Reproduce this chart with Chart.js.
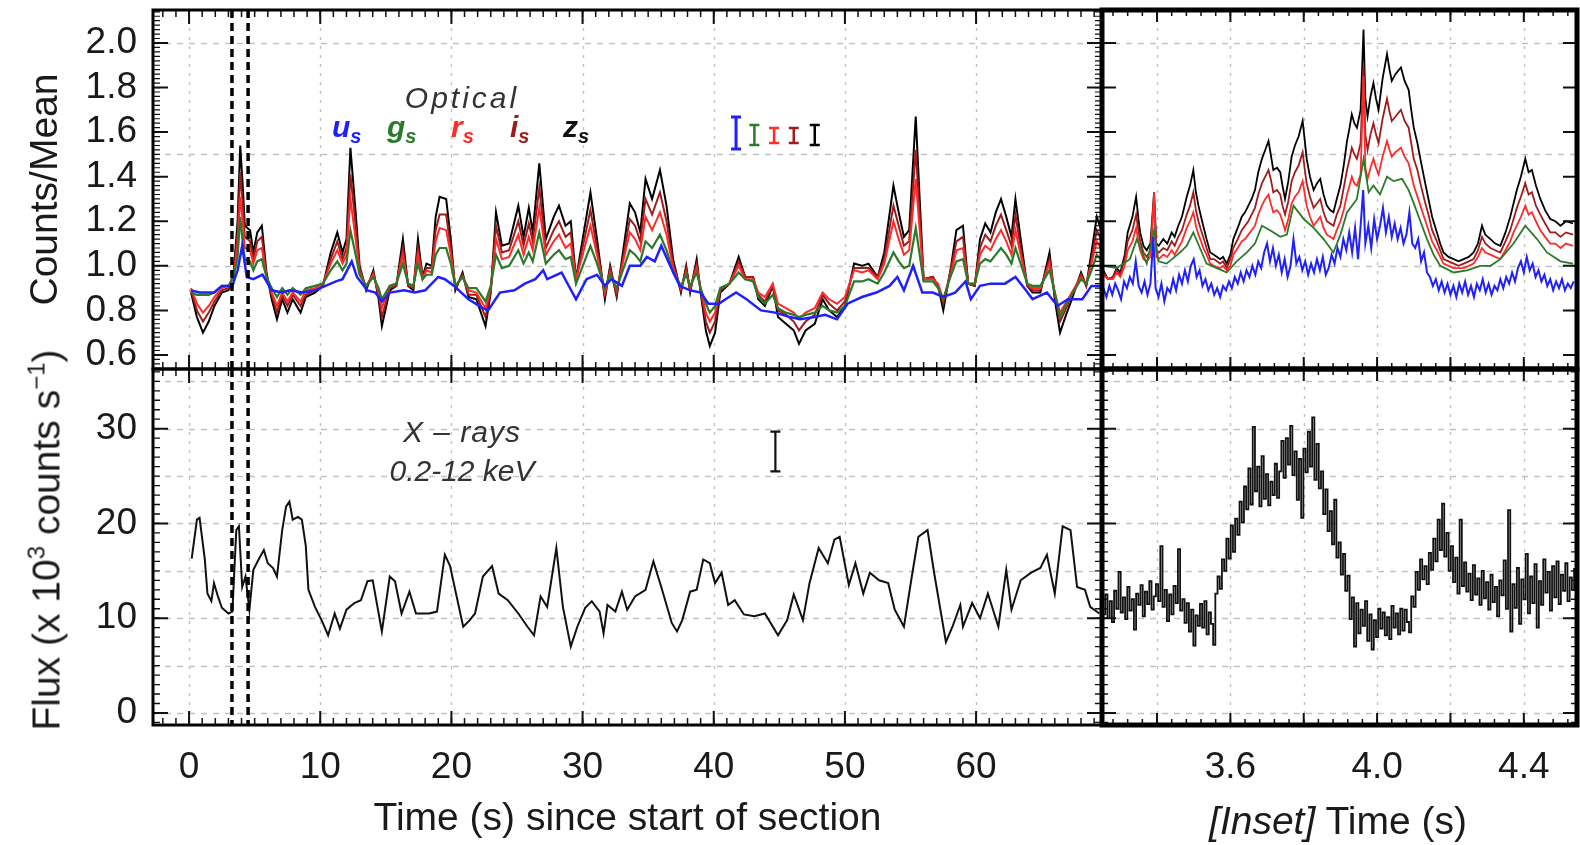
<!DOCTYPE html>
<html><head><meta charset="utf-8">
<script src="https://cdn.jsdelivr.net/npm/chart.js@4.4.1/dist/chart.umd.min.js"></script>
<style>
html,body{margin:0;padding:0;background:#fff;width:1580px;height:845px;overflow:hidden;font-family:"Liberation Sans",Arial,sans-serif;}
canvas{position:absolute;left:0;top:0;}
.lab{position:absolute;white-space:nowrap;color:#1a1a1a;line-height:1;z-index:5;}
.ann{font-style:italic;color:#333;font-size:30px;}
.band{position:absolute;font-weight:bold;font-style:italic;font-size:30px;line-height:1;z-index:5;white-space:nowrap;}
.band span{font-size:20px;position:relative;top:6px;}
</style></head><body>
<canvas id="cTL" width="1580" height="845"></canvas>
<canvas id="cBL" width="1580" height="845"></canvas>
<canvas id="cTR" width="1580" height="845"></canvas>
<canvas id="cBR" width="1580" height="845"></canvas>

<div class="lab ann" style="left:462px;top:98px;transform:translate(-50%,-50%);letter-spacing:3px;">Optical</div>
<div class="band" style="left:332px;top:112px;color:#1f1fff;">u<span>s</span></div>
<div class="band" style="left:387px;top:112px;color:#2a7a2a;">g<span>s</span></div>
<div class="band" style="left:451px;top:112px;color:#ff2a2a;">r<span>s</span></div>
<div class="band" style="left:510px;top:112px;color:#a01c1c;">i<span>s</span></div>
<div class="band" style="left:563px;top:112px;color:#111;">z<span>s</span></div>
<div class="lab ann" style="left:462px;top:432px;transform:translate(-50%,-50%);letter-spacing:1px;">X – rays</div>
<div class="lab ann" style="left:462px;top:471px;transform:translate(-50%,-50%);">0.2-12 keV</div>
<div class="lab" style="left:46px;top:540px;font-size:39px;transform:translate(-50%,-50%) rotate(-90deg);">Flux (x 10<span style="font-size:24px;position:relative;top:-15px;">3</span> counts s<span style="font-size:24px;position:relative;top:-15px;">−1</span>)</div>
<div class="lab" style="left:1338px;top:820px;font-size:39px;transform:translate(-50%,-50%);"><i>[Inset]</i> Time (s)</div>

<script>
// ---------------- tick labels / grid values ----------------
const xTicksMain = [0, 10, 20, 30, 40, 50, 60];
const xTicksInset = [3.6, 4.0, 4.4];
const yTicksOpt = [0.6, 0.8, 1.0, 1.2, 1.4, 1.6, 1.8, 2.0];
const yTicksX = [0, 10, 20, 30];
const gridYOpt = [1.0, 1.5, 2.0];
const gridYX = [0, 5, 10, 15, 20, 25, 30, 35];
const gridXInset = [3.4, 3.6, 3.8, 4.0, 4.2, 4.4];
const insetMarks = [3.27, 4.50];

// ---------------- main optical (time s) ----------------
const tMain = [0.15,0.6,1.06,1.5,1.93,2.5,3.0,3.4,3.7,3.9,
4.1,4.25,4.65,4.9,5.2,5.55,5.9,6.3,6.7,7.1,
7.5,7.9,8.5,8.9,9.6,10.2,10.8,11.3,11.7,12.0,
12.3,12.7,13.0,13.5,14.05,14.45,14.7,15.3,15.8,16.3,
16.7,17.1,17.45,17.8,18.1,18.5,18.8,19.1,19.6,19.95,
20.3,20.85,21.3,21.9,22.6,23.0,23.4,23.85,24.4,25.1,
25.5,25.9,26.2,26.7,27.2,27.8,28.2,28.7,29.1,29.5,
30.6,31.1,31.7,32.1,32.6,33.6,34.0,34.4,34.8,35.3,
35.9,36.4,36.9,37.5,37.9,38.2,38.7,39.0,39.4,39.7,
40.1,40.5,41.2,41.9,42.4,43.0,43.4,43.9,44.5,44.9,
45.5,46.1,46.5,47.0,47.7,48.3,48.8,49.4,50.0,50.7,
51.3,51.8,52.5,53.0,53.7,54.1,54.5,54.9,55.4,55.7,
56.0,56.7,57.1,57.5,58.1,58.5,59.0,59.4,59.9,60.3,
60.7,61.1,61.5,61.9,62.3,62.7,63.0,63.4,63.9,64.3,
64.9,65.6,66.0,66.4,66.8,67.3,68.0,68.4,68.8,69.2,
69.6];
const zMain = [0.88,0.77,0.70,0.75,0.82,0.88,0.89,0.97,1.20,1.54,
1.35,1.18,1.16,1.06,1.15,1.18,0.97,0.85,0.76,0.85,
0.79,0.85,0.79,0.86,0.88,0.91,1.06,1.15,1.06,1.12,
1.53,1.24,1.00,0.89,0.98,0.85,0.73,0.89,0.91,1.12,
0.91,0.89,1.12,0.95,1.01,1.00,1.22,1.31,1.30,1.12,
0.89,0.97,0.86,0.85,0.73,0.88,1.24,1.09,1.10,1.27,
1.13,1.26,1.15,1.46,1.12,1.22,1.27,1.18,1.20,0.94,
1.33,1.12,0.85,1.00,0.86,1.28,1.24,1.15,1.39,1.30,
1.43,1.27,1.03,0.88,1.00,0.88,1.03,0.88,0.71,0.64,
0.70,0.88,0.92,1.04,0.95,0.95,0.85,0.82,0.91,0.77,
0.74,0.71,0.65,0.71,0.74,0.85,0.80,0.77,0.82,1.01,
1.00,1.01,0.95,1.06,1.36,1.24,1.13,1.16,1.67,1.30,
0.94,0.95,0.91,0.80,1.00,1.16,1.18,0.92,0.91,1.12,
1.19,1.15,1.24,1.30,1.22,1.13,1.30,1.12,0.91,0.88,
0.88,1.06,0.85,0.70,0.77,0.85,0.97,0.91,1.06,1.22,
1.15];
const iMain = [0.89,0.80,0.75,0.79,0.84,0.89,0.90,0.96,1.15,1.42,
1.27,1.13,1.11,1.03,1.11,1.13,0.96,0.87,0.79,0.87,
0.82,0.87,0.82,0.87,0.89,0.91,1.03,1.11,1.03,1.08,
1.41,1.18,0.99,0.90,0.97,0.87,0.77,0.90,0.91,1.08,
0.91,0.90,1.08,0.95,0.99,0.99,1.16,1.23,1.23,1.08,
0.90,0.96,0.87,0.87,0.77,0.89,1.18,1.06,1.07,1.20,
1.09,1.19,1.11,1.35,1.08,1.16,1.20,1.13,1.15,0.94,
1.25,1.08,0.87,0.99,0.87,1.21,1.18,1.11,1.30,1.23,
1.33,1.20,1.01,0.89,0.99,0.89,1.01,0.89,0.75,0.70,
0.75,0.89,0.92,1.02,0.95,0.95,0.87,0.84,0.91,0.80,
0.78,0.75,0.71,0.75,0.78,0.87,0.83,0.80,0.84,0.99,
0.99,0.99,0.95,1.03,1.27,1.18,1.09,1.11,1.52,1.23,
0.94,0.95,0.91,0.83,0.99,1.11,1.13,0.92,0.91,1.08,
1.14,1.11,1.18,1.23,1.16,1.09,1.23,1.08,0.91,0.89,
0.89,1.03,0.87,0.75,0.80,0.87,0.96,0.91,1.03,1.16,
1.11];
const rMain = [0.90,0.83,0.79,0.82,0.86,0.90,0.91,0.95,1.10,1.31,
1.19,1.08,1.07,1.01,1.07,1.08,0.95,0.88,0.82,0.88,
0.84,0.88,0.84,0.89,0.90,0.92,1.01,1.07,1.01,1.05,
1.30,1.12,0.97,0.91,0.96,0.88,0.81,0.91,0.92,1.05,
0.92,0.91,1.05,0.94,0.98,0.97,1.11,1.17,1.16,1.05,
0.91,0.95,0.89,0.88,0.81,0.90,1.12,1.03,1.04,1.14,
1.05,1.13,1.07,1.26,1.05,1.11,1.14,1.08,1.10,0.94,
1.18,1.05,0.88,0.97,0.89,1.15,1.12,1.07,1.22,1.16,
1.24,1.14,0.99,0.90,0.97,0.90,0.99,0.90,0.79,0.75,
0.79,0.90,0.92,1.00,0.94,0.94,0.88,0.86,0.92,0.83,
0.81,0.79,0.76,0.79,0.81,0.88,0.85,0.83,0.86,0.98,
0.97,0.98,0.94,1.01,1.20,1.12,1.05,1.07,1.39,1.16,
0.94,0.94,0.92,0.85,0.97,1.07,1.08,0.92,0.92,1.05,
1.09,1.07,1.12,1.16,1.11,1.05,1.16,1.05,0.92,0.90,
0.90,1.01,0.88,0.79,0.83,0.88,0.95,0.92,1.01,1.11,
1.07];
const gMain = [0.88,0.87,0.87,0.87,0.88,0.91,0.91,0.95,1.04,1.22,
1.10,1.03,1.02,0.98,1.02,1.03,0.95,0.90,0.86,0.90,
0.87,0.90,0.87,0.90,0.91,0.92,0.98,1.02,0.98,1.01,
1.16,1.05,0.96,0.91,0.95,0.90,0.85,0.91,0.92,1.01,
0.92,0.91,1.01,0.94,0.96,0.96,1.05,1.08,1.08,1.01,
0.91,0.95,0.90,0.90,0.84,0.91,1.05,0.99,1.00,1.07,
1.01,1.06,1.02,1.15,1.01,1.05,1.07,1.03,1.04,0.92,
1.09,1.01,0.90,0.96,0.90,1.07,1.05,1.02,1.11,1.08,
1.14,1.07,0.97,0.91,0.96,0.91,0.97,0.90,0.83,0.79,
0.82,0.90,0.92,0.97,0.94,0.93,0.86,0.83,0.87,0.81,
0.79,0.78,0.77,0.78,0.79,0.82,0.80,0.79,0.82,0.93,
0.93,0.94,0.92,0.97,1.06,1.02,0.99,1.00,1.17,1.05,
0.93,0.93,0.90,0.85,0.96,1.02,1.03,0.92,0.92,1.01,
1.03,1.02,1.05,1.08,1.05,1.01,1.08,1.01,0.92,0.91,
0.91,0.98,0.88,0.77,0.82,0.87,0.94,0.92,0.98,1.05,
1.02];
const tMainU = [0.16,0.8,1.9,2.5,3.3,3.7,4.05,4.4,4.9,5.6,
6.3,7.1,7.65,8.7,9.6,10.4,11.2,11.7,12.4,12.8,
13.6,14.2,14.7,15.3,16.4,17.2,18.0,19.0,19.5,20.2,
21.3,22.4,22.8,23.7,24.8,25.6,26.4,27.0,27.3,28.4,
29.5,30.3,31.1,31.7,32.2,33.0,33.6,34.4,34.9,35.5,
36.0,36.6,37.4,38.2,39.0,39.6,40.4,40.9,41.7,42.5,
43.6,44.7,45.8,46.6,47.7,48.5,49.4,50.2,51.3,52.4,
53.4,54.0,54.5,55.2,55.9,56.7,57.5,58.4,59.2,59.6,
60.3,61.1,62.2,63.0,63.8,64.3,65.4,66.2,67.0,68.1,
68.8,69.5];
const uMain = [0.89,0.88,0.88,0.91,0.91,0.98,1.09,0.95,0.94,0.96,
0.89,0.88,0.89,0.88,0.89,0.91,0.93,0.94,1.02,0.95,
0.89,0.88,0.84,0.88,0.89,0.88,0.89,0.95,0.94,0.91,
0.85,0.81,0.80,0.88,0.89,0.92,0.94,0.98,0.94,0.97,
0.85,0.94,0.96,0.91,0.94,0.91,1.00,1.00,1.04,1.02,
1.09,1.01,0.91,0.89,0.88,0.83,0.83,0.85,0.88,0.85,
0.80,0.79,0.77,0.76,0.77,0.78,0.76,0.83,0.86,0.88,
0.91,0.95,0.89,1.00,0.88,0.88,0.86,0.88,0.93,0.85,
0.91,0.92,0.92,0.95,0.89,0.85,0.88,0.82,0.85,0.85,
0.91,0.91];

// ---------------- main X-ray (x1000 counts/s) ----------------
const tXray = [0.2,0.6,0.8,1.2,1.4,1.7,1.9,2.2,2.5,3.0,
3.3,3.6,3.8,4.05,4.3,4.6,4.9,5.3,5.7,6.0,
6.4,6.7,7.1,7.4,7.65,7.9,8.3,8.6,8.9,9.1,
9.6,10.1,10.6,11.1,11.5,12.0,12.6,13.1,13.6,14.0,
14.7,15.3,15.7,16.2,16.8,17.3,18.3,18.9,19.5,19.9,
20.4,20.9,21.4,21.8,22.4,23.1,23.6,24.3,25.1,25.8,
26.3,26.8,27.3,28.0,28.5,29.1,29.6,30.2,30.7,31.3,
31.6,31.9,32.5,33.0,33.4,34.0,34.8,35.4,36.0,36.8,
37.2,37.6,38.2,38.7,39.2,39.7,40.1,40.6,41.1,41.6,
42.3,43.1,43.9,44.9,45.6,46.1,46.8,47.3,48.0,48.7,
49.2,49.6,50.3,50.8,51.4,51.9,52.6,53.3,53.8,54.5,
55.1,55.6,56.3,56.8,57.7,58.2,58.8,59.0,59.7,60.3,
60.9,61.7,62.3,62.7,63.4,64.2,64.9,65.4,66.0,66.6,
67.2,67.7,68.3,68.7,69.4];
const xrayMain = [16.3,20.4,20.6,16.2,12.6,11.8,13.7,12.3,11.1,10.5,
10.7,19.3,19.7,13.3,14.4,10.9,15.1,16.2,17.2,15.8,
15.3,14.4,19.3,21.8,22.3,20.4,20.7,20.4,17.6,13.0,
11.2,9.8,8.2,10.5,8.9,10.9,11.6,11.9,13.9,14.0,
8.6,14.4,13.9,10.5,12.8,10.5,10.5,10.7,16.7,15.5,
12.3,9.1,9.8,10.5,14.4,15.5,12.6,11.9,10.5,9.1,
8.2,12.3,11.2,17.4,11.2,7.0,9.1,11.1,11.8,10.7,
8.4,11.4,10.7,12.8,10.9,12.3,13.0,16.0,13.3,9.5,
8.6,9.8,12.8,13.0,16.2,15.8,13.7,14.8,11.4,11.9,
10.4,10.2,10.5,8.2,9.8,12.5,9.8,13.7,17.4,15.8,
18.3,18.6,13.5,15.8,12.6,14.8,14.0,13.7,10.9,9.1,
14.4,18.6,19.3,14.8,7.5,9.1,11.4,9.1,11.6,10.0,
12.6,9.1,15.1,10.9,14.0,14.8,15.3,16.7,12.6,19.7,
19.3,13.3,13.0,11.2,10.5];

// ---------------- inset optical ----------------
const tInset = [3.254,3.266,3.28,3.29,3.30,3.312,3.32,3.333,3.343,3.35,
3.354,3.363,3.372,3.382,3.392,3.398,3.405,3.417,3.428,3.44,
3.448,3.458,3.468,3.481,3.49,3.499,3.506,3.513,3.52,3.526,
3.535,3.545,3.555,3.572,3.58,3.59,3.60,3.608,3.62,3.631,
3.64,3.649,3.658,3.667,3.676,3.686,3.695,3.704,3.71,3.717,
3.727,3.736,3.742,3.749,3.758,3.767,3.776,3.786,3.797,3.803,
3.808,3.817,3.827,3.836,3.845,3.854,3.863,3.872,3.881,3.89,
3.90,3.909,3.918,3.925,3.931,3.938,3.945,3.955,3.963,3.968,
3.974,3.982,3.99,3.997,4.004,4.015,4.027,4.034,4.04,4.05,
4.065,4.075,4.086,4.093,4.10,4.11,4.118,4.13,4.14,4.15,
4.163,4.172,4.181,4.195,4.209,4.222,4.236,4.25,4.263,4.275,
4.286,4.295,4.309,4.322,4.336,4.35,4.363,4.372,4.381,4.392,
4.404,4.413,4.422,4.433,4.445,4.458,4.472,4.486,4.50,4.515,
4.534];
const zInset = [0.98,0.94,0.95,0.99,0.97,1.05,1.15,1.22,1.31,1.20,
1.15,1.09,1.07,1.10,1.33,1.10,1.09,1.12,1.10,1.15,
1.13,1.18,1.22,1.31,1.36,1.43,1.33,1.27,1.22,1.18,
1.12,1.06,1.05,1.03,1.04,1.01,1.05,1.12,1.17,1.22,
1.24,1.27,1.30,1.34,1.42,1.48,1.52,1.56,1.50,1.43,
1.44,1.42,1.36,1.30,1.38,1.49,1.54,1.58,1.65,1.56,
1.48,1.40,1.34,1.37,1.39,1.32,1.27,1.25,1.24,1.30,
1.36,1.45,1.56,1.62,1.68,1.64,1.62,1.70,2.06,1.75,
1.67,1.76,1.82,1.75,1.70,1.84,1.95,1.88,1.83,1.86,
1.89,1.83,1.79,1.70,1.62,1.55,1.48,1.38,1.30,1.22,
1.15,1.10,1.06,1.04,1.03,1.02,1.03,1.04,1.06,1.10,
1.18,1.14,1.12,1.10,1.09,1.15,1.22,1.28,1.34,1.40,
1.48,1.42,1.43,1.36,1.30,1.25,1.21,1.20,1.18,1.20,
1.19];
const iInset = [0.97,0.94,0.95,0.98,0.96,1.03,1.11,1.16,1.23,1.15,
1.11,1.06,1.04,1.07,1.30,1.07,1.06,1.08,1.07,1.11,
1.09,1.13,1.16,1.23,1.27,1.33,1.25,1.20,1.16,1.13,
1.08,1.03,1.03,1.01,1.02,0.99,1.03,1.08,1.12,1.16,
1.18,1.20,1.23,1.26,1.32,1.37,1.40,1.43,1.39,1.33,
1.34,1.32,1.27,1.23,1.29,1.38,1.42,1.45,1.51,1.43,
1.37,1.31,1.26,1.28,1.30,1.24,1.20,1.19,1.18,1.23,
1.27,1.35,1.43,1.48,1.53,1.50,1.48,1.55,1.90,1.59,
1.52,1.59,1.64,1.59,1.55,1.66,1.75,1.69,1.65,1.67,
1.70,1.65,1.62,1.55,1.48,1.43,1.37,1.29,1.23,1.16,
1.11,1.07,1.03,1.02,1.01,1.00,1.01,1.02,1.03,1.07,
1.13,1.10,1.08,1.07,1.06,1.11,1.16,1.21,1.26,1.31,
1.37,1.32,1.33,1.27,1.23,1.19,1.15,1.15,1.13,1.15,
1.14];
const rInset = [0.96,0.94,0.94,0.97,0.95,1.00,1.07,1.11,1.17,1.10,
1.07,1.03,1.02,1.04,1.33,1.04,1.03,1.05,1.04,1.07,
1.05,1.08,1.11,1.17,1.20,1.24,1.18,1.14,1.11,1.08,
1.05,1.01,1.00,0.99,1.00,0.98,1.00,1.05,1.08,1.11,
1.12,1.14,1.16,1.18,1.23,1.27,1.30,1.32,1.28,1.24,
1.25,1.23,1.20,1.16,1.21,1.28,1.31,1.33,1.38,1.32,
1.27,1.22,1.18,1.20,1.22,1.17,1.14,1.13,1.12,1.16,
1.20,1.25,1.32,1.36,1.40,1.37,1.36,1.41,1.85,1.44,
1.39,1.44,1.48,1.44,1.41,1.49,1.56,1.52,1.49,1.51,
1.53,1.49,1.46,1.41,1.36,1.31,1.27,1.21,1.16,1.11,
1.07,1.04,1.01,1.00,0.99,0.99,0.99,1.00,1.01,1.04,
1.08,1.06,1.05,1.04,1.03,1.07,1.11,1.15,1.18,1.22,
1.27,1.23,1.24,1.20,1.16,1.13,1.10,1.10,1.08,1.10,
1.09];
const tInsetG = [3.254,3.29,3.326,3.345,3.372,3.392,3.404,3.426,3.463,3.481,
3.499,3.517,3.535,3.563,3.59,3.617,3.645,3.667,3.686,3.708,
3.736,3.754,3.772,3.80,3.827,3.854,3.881,3.90,3.918,3.945,
3.963,3.977,3.99,4.008,4.027,4.045,4.068,4.086,4.10,4.118,
4.136,4.154,4.172,4.209,4.245,4.281,4.309,4.336,4.372,4.404,
4.436,4.463,4.50,4.534];
const gInset = [1.00,0.99,1.03,1.12,1.01,1.16,1.02,1.01,1.06,1.09,
1.15,1.08,1.01,0.99,0.97,1.02,1.06,1.10,1.18,1.16,
1.13,1.14,1.27,1.21,1.17,1.12,1.06,1.14,1.24,1.30,
1.48,1.33,1.36,1.32,1.40,1.38,1.39,1.34,1.28,1.20,
1.12,1.05,1.00,0.97,0.98,1.00,1.00,1.03,1.10,1.18,
1.12,1.06,1.02,1.01];
const tInsetU = [3.254,3.262,3.27,3.278,3.286,3.294,3.302,3.31,3.318,3.326,
3.334,3.342,3.35,3.358,3.366,3.374,3.382,3.39,3.396,3.404,
3.412,3.42,3.428,3.436,3.444,3.452,3.46,3.468,3.476,3.484,
3.492,3.50,3.508,3.516,3.524,3.532,3.54,3.548,3.556,3.564,
3.572,3.58,3.588,3.596,3.604,3.612,3.62,3.628,3.636,3.644,
3.652,3.66,3.668,3.676,3.684,3.692,3.70,3.708,3.716,3.724,
3.732,3.74,3.748,3.756,3.764,3.772,3.78,3.788,3.796,3.804,
3.812,3.82,3.828,3.836,3.844,3.852,3.86,3.868,3.876,3.884,
3.892,3.90,3.908,3.916,3.924,3.932,3.94,3.948,3.956,3.962,
3.968,3.976,3.984,3.992,4.00,4.008,4.016,4.024,4.032,4.04,
4.048,4.056,4.064,4.072,4.08,4.088,4.096,4.104,4.112,4.12,
4.128,4.136,4.144,4.152,4.16,4.168,4.176,4.184,4.192,4.20,
4.208,4.216,4.224,4.232,4.24,4.248,4.256,4.264,4.272,4.28,
4.288,4.296,4.304,4.312,4.32,4.328,4.336,4.344,4.352,4.36,
4.368,4.376,4.384,4.392,4.40,4.408,4.416,4.424,4.432,4.44,
4.448,4.456,4.464,4.472,4.48,4.488,4.496,4.504,4.512,4.52,
4.528,4.536];
const uInset = [0.90,0.86,0.91,0.87,0.92,0.89,0.85,0.93,0.90,0.95,
0.92,1.02,0.91,0.88,0.93,0.87,0.92,1.13,0.90,0.86,
0.92,0.84,0.90,0.88,0.94,0.89,0.96,0.92,0.98,0.93,
1.00,1.03,0.95,0.98,0.91,0.94,0.89,0.92,0.87,0.90,
0.86,0.91,0.89,0.93,0.90,0.95,0.92,0.97,0.93,0.98,
0.95,1.00,0.96,1.02,0.99,1.06,1.10,1.02,1.08,1.00,
1.05,0.97,1.03,0.95,1.00,1.12,1.01,1.04,0.98,1.02,
0.96,1.01,0.97,1.03,0.98,1.04,0.96,0.99,1.05,1.01,
1.08,1.04,1.12,1.07,1.15,1.06,1.17,1.03,1.20,1.34,
1.10,1.18,1.08,1.21,1.12,1.18,1.26,1.15,1.22,1.13,
1.19,1.12,1.17,1.10,1.14,1.24,1.10,1.08,1.12,1.02,
1.06,0.97,0.95,0.91,0.94,0.89,0.93,0.88,0.92,0.87,
0.91,0.86,0.92,0.88,0.93,0.87,0.91,0.86,0.92,0.89,
0.94,0.88,0.92,0.87,0.91,0.89,0.94,0.90,0.95,0.92,
0.97,0.93,0.99,1.02,0.97,1.04,0.98,1.01,0.95,0.98,
0.93,0.96,0.91,0.94,0.89,0.93,0.90,0.94,0.89,0.92,
0.90,0.93];

// ---------------- inset X-ray ----------------
const tInsetX = [3.250,3.256,3.262,3.268,3.274,3.280,3.286,3.292,3.298,3.304,
3.310,3.316,3.322,3.328,3.334,3.340,3.346,3.352,3.358,3.364,
3.370,3.376,3.382,3.388,3.394,3.400,3.406,3.412,3.418,3.424,
3.430,3.436,3.442,3.448,3.454,3.460,3.466,3.472,3.478,3.484,
3.490,3.496,3.502,3.508,3.514,3.520,3.526,3.532,3.538,3.544,
3.550,3.556,3.562,3.568,3.574,3.580,3.586,3.592,3.598,3.604,
3.610,3.616,3.622,3.628,3.634,3.640,3.646,3.652,3.658,3.664,
3.670,3.676,3.682,3.688,3.694,3.700,3.706,3.712,3.718,3.724,
3.730,3.736,3.742,3.748,3.754,3.760,3.766,3.772,3.778,3.784,
3.790,3.796,3.802,3.808,3.814,3.820,3.826,3.832,3.838,3.844,
3.850,3.856,3.862,3.868,3.874,3.880,3.886,3.892,3.898,3.904,
3.910,3.916,3.922,3.928,3.934,3.940,3.946,3.952,3.958,3.964,
3.970,3.976,3.982,3.988,3.994,4.000,4.006,4.012,4.018,4.024,
4.030,4.036,4.042,4.048,4.054,4.060,4.066,4.072,4.078,4.084,
4.090,4.096,4.102,4.108,4.114,4.120,4.126,4.132,4.138,4.144,
4.150,4.156,4.162,4.168,4.174,4.180,4.186,4.192,4.198,4.204,
4.210,4.216,4.222,4.228,4.234,4.240,4.246,4.252,4.258,4.264,
4.270,4.276,4.282,4.288,4.294,4.300,4.306,4.312,4.318,4.324,
4.330,4.336,4.342,4.348,4.354,4.360,4.366,4.372,4.378,4.384,
4.390,4.396,4.402,4.408,4.414,4.420,4.426,4.432,4.438,4.444,
4.450,4.456,4.462,4.468,4.474,4.480,4.486,4.492,4.498,4.504,
4.510,4.516,4.522,4.528,4.534,4.540];
const xrayInset = [11.2,10.4,12.5,10.0,11.8,9.6,12.9,11.0,14.9,10.6,
12.2,9.9,13.3,10.8,12.0,8.8,12.6,11.4,13.5,10.2,
12.8,11.5,13.9,10.9,12.3,13.6,11.8,17.6,11.2,13.0,
9.7,12.5,10.4,13.4,11.6,17.3,10.8,12.0,9.5,11.6,
8.6,10.9,7.1,10.3,9.2,11.5,9.0,11.8,8.3,10.6,
9.4,7.2,12.6,14.4,13.1,16.2,15.0,18.4,16.3,19.8,
17.0,20.5,18.8,22.3,20.1,23.9,21.5,25.8,22.0,30.2,
23.4,26.0,21.8,27.1,22.6,25.2,21.9,24.4,23.0,26.3,
22.7,25.5,28.7,24.8,29.0,26.2,30.3,25.1,27.6,22.5,
26.8,20.6,27.9,25.4,29.7,26.0,31.2,24.6,28.4,23.7,
25.5,21.0,23.6,19.2,21.3,17.8,22.5,16.4,18.0,14.6,
16.8,12.9,14.5,9.9,12.2,7.0,11.6,8.4,10.9,9.2,
11.8,7.6,10.4,6.7,9.8,8.0,11.0,8.9,10.6,8.2,
10.1,7.8,11.3,9.0,10.5,8.3,11.0,8.7,10.9,9.6,
8.5,12.3,11.2,14.9,13.0,16.2,14.1,15.5,13.6,16.9,
15.1,18.4,16.0,20.4,17.2,22.1,16.5,19.0,15.0,17.6,
13.8,16.4,12.6,20.4,13.4,15.9,12.8,14.7,11.9,15.6,
12.5,14.2,11.4,15.0,12.1,13.8,10.9,14.6,11.7,13.3,
10.2,14.0,12.4,16.1,11.0,21.4,8.6,13.6,11.1,15.3,
9.4,14.1,12.0,16.8,10.5,14.4,11.6,15.7,9.0,13.9,
11.4,16.2,12.7,14.9,10.8,15.5,12.2,16.0,11.5,14.6,
12.9,15.8,11.8,14.3,13.0,15.2];

// ---------------- error bars ----------------
const optErrX = [41.7, 43.1, 44.6, 46.1, 47.7];
const optErrY = [1.596, 1.587, 1.585, 1.585, 1.587];
const optErrHalf = [0.072, 0.045, 0.034, 0.034, 0.045];
const xrayErrX = [44.7];
const xrayErrY = [27.6];
const xrayErrHalf = [2.1];

// ---------------- styling ----------------
const FONT = '"Liberation Sans", Arial, Helvetica, sans-serif';
const COL = { u: '#1f1fff', g: '#2a7a2a', r: '#ff2a2a', i: '#a01c1c', z: '#000000' };
const bandColors = [COL.u, COL.g, COL.r, COL.i, COL.z];
const MAIN_X = [-2.75, 69.6], INSET_X = [3.25, 4.545], OPT_Y = [0.537, 2.148], XR_Y = [-1.27, 36.3];

function seq(a, b, step) { const out = []; const n = Math.round((b - a) / step); for (let k = 0; k <= n; k++) out.push(+(a + k * step).toFixed(4)); return out; }
function pts(t, v) { return t.map((tt, k) => ({ x: tt, y: v[k] })); }

const decorCfg = {};
const decor = {
  id: 'decor',
  beforeDatasetsDraw(chart) {
    const o = decorCfg[chart.canvas.id]; if (!o) return;
    const { ctx, chartArea: a } = chart; const xs = chart.scales.x, ys = chart.scales.y;
    ctx.save();
    ctx.strokeStyle = '#c2c2c2'; ctx.lineWidth = 1.4;
    ctx.setLineDash([3, 6]); ctx.beginPath();
    o.gridX.forEach(v => { const p = Math.round(xs.getPixelForValue(v)) + 0.5; ctx.moveTo(p, a.top); ctx.lineTo(p, a.bottom); });
    ctx.stroke();
    ctx.setLineDash([6, 6]); ctx.beginPath();
    o.gridY.forEach(v => { const p = Math.round(ys.getPixelForValue(v)) + 0.5; ctx.moveTo(a.left, p); ctx.lineTo(a.right, p); });
    ctx.stroke();
    ctx.restore();
  },
  afterDatasetsDraw(chart) {
    const o = decorCfg[chart.canvas.id]; if (!o) return;
    const { ctx, chartArea: a } = chart; const xs = chart.scales.x, ys = chart.scales.y;
    ctx.save();
    if (o.vlines) {
      ctx.strokeStyle = '#000'; ctx.lineWidth = 3.5; ctx.setLineDash([8, 5]);
      o.vlines.forEach(v => { const p = xs.getPixelForValue(v); ctx.beginPath(); ctx.moveTo(p, a.top); ctx.lineTo(p, a.bottom); ctx.stroke(); });
      ctx.setLineDash([]);
    }
    (o.err || []).forEach(e => {
      const px = xs.getPixelForValue(e.x), y1 = ys.getPixelForValue(e.y - e.h), y2 = ys.getPixelForValue(e.y + e.h);
      ctx.strokeStyle = e.c; ctx.lineWidth = e.w; ctx.beginPath();
      ctx.moveTo(px, y1); ctx.lineTo(px, y2);
      ctx.moveTo(px - e.cap, y1); ctx.lineTo(px + e.cap, y1);
      ctx.moveTo(px - e.cap, y2); ctx.lineTo(px + e.cap, y2);
      ctx.stroke();
    });
    ctx.strokeStyle = '#111';
    o.xt.forEach(t => {
      ctx.lineWidth = t.w; ctx.beginPath();
      t.v.forEach(v => { if (v < xs.min || v > xs.max) return; const p = xs.getPixelForValue(v);
        ctx.moveTo(p, a.bottom); ctx.lineTo(p, a.bottom - t.len); ctx.moveTo(p, a.top); ctx.lineTo(p, a.top + t.len); });
      ctx.stroke();
    });
    o.yt.forEach(t => {
      ctx.lineWidth = t.w; ctx.beginPath();
      t.v.forEach(v => { if (v < ys.min || v > ys.max) return; const p = ys.getPixelForValue(v);
        if (t.sides.includes('l')) { ctx.moveTo(a.left, p); ctx.lineTo(a.left + t.len, p); }
        if (t.sides.includes('r')) { ctx.moveTo(a.right, p); ctx.lineTo(a.right - t.len, p); } });
      ctx.stroke();
    });
    ctx.lineWidth = o.frame; ctx.strokeStyle = '#000'; ctx.setLineDash([]);
    ctx.strokeRect(a.left, a.top, a.right - a.left, a.bottom - a.top);
    ctx.restore();
  }
};

function line(data, color, w, extra) { return Object.assign({ data, borderColor: color, borderWidth: w, pointRadius: 0, tension: 0, fill: false }, extra || {}); }
function hidden(r) { return { type: 'linear', min: r[0], max: r[1], display: false }; }
function yAxis(r, ticks, fmt, title) {
  return { type: 'linear', min: r[0], max: r[1], position: 'left',
    grid: { display: false, drawTicks: false }, border: { display: false },
    afterBuildTicks: s => { s.ticks = ticks.map(v => ({ value: v })); },
    afterFit: s => { s.width = 153; s.paddingTop = 0; s.paddingBottom = 0; s.paddingLeft = 0; s.paddingRight = 0; },
    ticks: { padding: 16, autoSkip: false, font: { family: FONT, size: 37 }, color: '#1a1a1a', callback: fmt },
    title: title ? { display: true, text: title, font: { family: FONT, size: 39 }, color: '#1a1a1a', padding: { top: 23, bottom: 0 } } : { display: false } };
}
function xAxis(r, ticks, fmt, title) {
  return { type: 'linear', min: r[0], max: r[1], position: 'bottom',
    grid: { display: false, drawTicks: false }, border: { display: false },
    afterBuildTicks: s => { s.ticks = ticks.map(v => ({ value: v })); },
    afterFit: s => { s.height = 120; s.paddingLeft = 0; s.paddingRight = 0; s.paddingTop = 0; s.paddingBottom = 0; },
    ticks: { padding: 21, autoSkip: false, maxRotation: 0, font: { family: FONT, size: 37 }, color: '#1a1a1a', callback: fmt },
    title: title ? { display: true, text: title, font: { family: FONT, size: 39 }, color: '#1a1a1a', padding: { top: 0, bottom: 2 } } : { display: false } };
}
function mk(id, datasets, x, y, pad) {
  return new Chart(document.getElementById(id), {
    type: 'line', data: { datasets },
    options: { responsive: false, animation: false, devicePixelRatio: 1, events: [], parsing: true,
      layout: { padding: pad },
      plugins: { legend: { display: false }, tooltip: { enabled: false } },
      scales: { x, y } },
    plugins: [decor]
  });
}

const fmt1 = v => Number(v).toFixed(1);
const fmt0 = v => String(v);
const gridXMain = xTicksMain;
const xtMain = [{ v: xTicksMain, len: 14, w: 2 }, { v: seq(-2, 69, 1), len: 7, w: 1.5 }];
const xtInset = [{ v: gridXInset, len: 12, w: 2 }, { v: seq(3.28, 4.52, 0.04), len: 6, w: 1.5 }];
const ytOpt = [{ v: yTicksOpt, len: 15, w: 2, sides: 'lr' }, { v: seq(0.54, 2.14, 0.02), len: 7, w: 1.2, sides: 'lr' }];
const ytX = [{ v: yTicksX, len: 15, w: 2, sides: 'lr' }, { v: seq(-1, 36, 1), len: 7, w: 1.3, sides: 'lr' }];
const ytOptIn = [{ v: yTicksOpt, len: 14, w: 2, sides: 'lr' }];
const ytXIn = [{ v: yTicksX, len: 14, w: 2, sides: 'lr' }, { v: seq(-1, 36, 1), len: 6, w: 1.3, sides: 'lr' }];

decorCfg.cTL = { gridX: gridXMain, gridY: gridYOpt, xt: xtMain, yt: ytOpt, frame: 3, vlines: insetMarks,
  err: optErrX.map((x, k) => ({ x, y: optErrY[k], h: optErrHalf[k], c: bandColors[k], w: k === 0 ? 3 : 2.5, cap: 5 })) };
decorCfg.cBL = { gridX: gridXMain, gridY: gridYX, xt: xtMain, yt: ytX, frame: 3, vlines: insetMarks,
  err: xrayErrX.map((x, k) => ({ x, y: xrayErrY[k], h: xrayErrHalf[k], c: '#111', w: 2.2, cap: 5 })) };
decorCfg.cTR = { gridX: gridXInset, gridY: gridYOpt, xt: xtInset, yt: ytOptIn, frame: 5 };
decorCfg.cBR = { gridX: gridXInset, gridY: gridYX, xt: xtInset, yt: ytXIn, frame: 5 };

mk('cTL', [
  line(pts(tMainU, uMain), COL.u, 2.5),
  line(pts(tMain, gMain), COL.g, 2.2),
  line(pts(tMain, rMain), COL.r, 2),
  line(pts(tMain, iMain), COL.i, 2),
  line(pts(tMain, zMain), COL.z, 2)
], hidden(MAIN_X), yAxis(OPT_Y, yTicksOpt, fmt1, 'Counts/Mean'), { left: 0, top: 10, right: 478, bottom: 476 });

mk('cBL', [
  line(pts(tXray, xrayMain), '#111', 2)
], xAxis(MAIN_X, xTicksMain, fmt0, 'Time (s) since start of section'), yAxis(XR_Y, yTicksX, fmt0, null), { left: 0, top: 369, right: 478, bottom: 0 });

mk('cTR', [
  line(pts(tInsetU, uInset), COL.u, 2),
  line(pts(tInsetG, gInset), COL.g, 1.8),
  line(pts(tInset, rInset), COL.r, 1.8),
  line(pts(tInset, iInset), COL.i, 1.8),
  line(pts(tInset, zInset), COL.z, 1.8)
], hidden(INSET_X), hidden(OPT_Y), { left: 1102, top: 10, right: 3, bottom: 476 });

mk('cBR', [
  line(pts(tInsetX, xrayInset), '#111', 1.8, { stepped: 'middle' })
], xAxis(INSET_X, xTicksInset, fmt1, null), hidden(XR_Y), { left: 1102, top: 369, right: 3, bottom: 0 });
</script>
</body></html>
